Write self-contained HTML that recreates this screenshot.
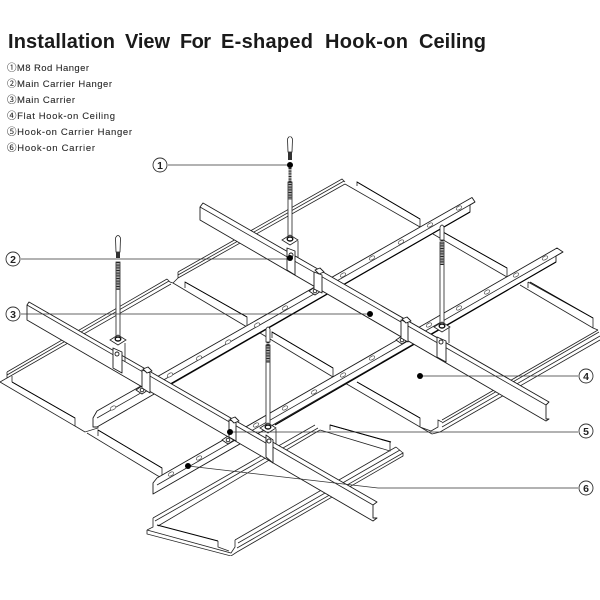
<!DOCTYPE html>
<html><head><meta charset="utf-8"><style>
html,body{margin:0;padding:0;background:#fff;width:600px;height:600px;overflow:hidden}
svg{display:block}
text{font-family:"Liberation Sans","Noto Sans CJK JP",sans-serif}
.l{fill:#fff;stroke:#1c1c1c;stroke-width:.9;stroke-linejoin:round}
.n{fill:none;stroke:#222;stroke-width:.8}
.d{fill:none;stroke:#000;stroke-width:1.1}
.c{fill:none;stroke:#333;stroke-width:.8}
.s{fill:#fff;stroke:#444;stroke-width:.7}
.r{fill:#fff;stroke:#222;stroke-width:.8}
.list{font-size:9.5px;fill:#222;stroke:#555;stroke-width:.12}
.num{font-size:10.5px;font-weight:bold;fill:#222;text-anchor:middle}
.title{font-size:20px;font-weight:bold;fill:#1a1a1a}
</style></head><body>
<svg width="600" height="600" viewBox="0 0 600 600" xmlns="http://www.w3.org/2000/svg">
<defs><filter id="b" x="0" y="0" width="100%" height="100%"><feGaussianBlur stdDeviation="0.3"/></filter></defs>
<g class="title">
<text x="8" y="48" textLength="107">Installation</text>
<text x="125" y="48" textLength="45">View</text>
<text x="180" y="48" textLength="31">For</text>
<text x="221" y="48" textLength="92">E-shaped</text>
<text x="325" y="48" textLength="83">Hook-on</text>
<text x="419" y="48" textLength="67">Ceiling</text>
</g>
<g class="list">
<text x="7" y="71" textLength="82">①M8 Rod Hanger</text>
<text x="7" y="87" textLength="105">②Main Carrier Hanger</text>
<text x="7" y="103" textLength="68">③Main Carrier</text>
<text x="7" y="119" textLength="108">④Flat Hook-on Ceiling</text>
<text x="7" y="135" textLength="125">⑤Hook-on Carrier Hanger</text>
<text x="7" y="151" textLength="88">⑥Hook-on Carrier</text>
</g>
<g filter="url(#b)">
<!-- panels -->
<g class="n">
<path d="M7 372L167 279M7 375L169 281M0 382L7 378V372M7 378L171 284M167 279L170 282L173 283"/>
<path d="M178 272L342 179L345 182M178 275L344 181M178 278L345 184M178 272V278L173 283"/>
<path d="M345 184L420 227V219L357 182V186"/>
<path d="M433 234L507 277V268L443 232"/>
<path d="M520 285L593 328L598 330M528 282L593 318V328M528 282V288"/>
<path d="M173 283L247 327V317L185 282V288"/>
<path d="M260 333L333 377V368L272 332V338"/>
<path d="M345 383L432 434M357 382L420 418V427L431 431L438 427V420L442 422"/>
<path d="M442 420L598 330M442 423L599 332M442 427L600 336M432 434L440 432L600 340"/>
<path d="M0 382L85 432L98 428V422M12 382V376M12 382L75 418V426L85 432"/>
<path d="M87 433L158 476L162 477V468L98 430V436"/>
</g>
<!-- bottom panel -->
<g class="n">
<path d="M153 518L315 425M155 521L318 428M158 526L320 430"/>
<path d="M147 530L153 527V518M147 530L147 534L231 556L237 552"/>
<path d="M147 530L231 553L235 547V540"/>
<path d="M235 540L396 447M238 543L400 450M237 548L403 453L403 456L237 552"/>
<path d="M320 430L390 451V442L330 425V430"/>
<path d="M218 541V547L229 551"/>
<path d="M396 447L403 453"/>
</g>
<path class="d" d="M157 525L218 541"/>
<path class="d" style="stroke-width:1" d="M330 425L391 442"/>
<path class="d" style="stroke-width:.9" d="M185 282L247 317M357 182L420 219M443 232L507 268M530 282L593 318M272 332L333 368M357 382L420 418M12 382L75 418M98 430L162 468"/>
<!-- carriers -->
<path class="l" d="M97 411L472 197.5L475 202L470 205V212L97 427L93 427V418Z"/>
<path class="n" d="M97 418L475 202"/>
<path class="d" d="M165 387L470 212"/>
<path class="l" d="M157 478L557 248L563 252L556 256V262L153 494V483Z"/>
<path class="n" d="M157 485L563 252"/>
<path class="d" d="M275 425L556 262"/>
<g class="s">
<ellipse cx="343" cy="275" rx="3" ry="1.7" transform="rotate(-30 343 275)"/><ellipse cx="372" cy="258" rx="3" ry="1.7" transform="rotate(-30 372 258)"/><ellipse cx="401" cy="242" rx="3" ry="1.7" transform="rotate(-30 401 242)"/><ellipse cx="430" cy="225" rx="3" ry="1.7" transform="rotate(-30 430 225)"/><ellipse cx="459" cy="208" rx="3" ry="1.7" transform="rotate(-30 459 208)"/>
<ellipse cx="285" cy="308" rx="3" ry="1.7" transform="rotate(-30 285 308)"/><ellipse cx="257" cy="325" rx="3" ry="1.7" transform="rotate(-30 257 325)"/><ellipse cx="228" cy="342" rx="3" ry="1.7" transform="rotate(-30 228 342)"/><ellipse cx="199" cy="358" rx="3" ry="1.7" transform="rotate(-30 199 358)"/><ellipse cx="170" cy="375" rx="3" ry="1.7" transform="rotate(-30 170 375)"/><ellipse cx="113" cy="408" rx="3" ry="1.7" transform="rotate(-30 113 408)"/>
<ellipse cx="545" cy="258" rx="3" ry="1.7" transform="rotate(-30 545 258)"/><ellipse cx="516" cy="275" rx="3" ry="1.7" transform="rotate(-30 516 275)"/><ellipse cx="487" cy="292" rx="3" ry="1.7" transform="rotate(-30 487 292)"/><ellipse cx="459" cy="308" rx="3" ry="1.7" transform="rotate(-30 459 308)"/><ellipse cx="429" cy="325" rx="3" ry="1.7" transform="rotate(-30 429 325)"/><ellipse cx="372" cy="358" rx="3" ry="1.7" transform="rotate(-30 372 358)"/><ellipse cx="343" cy="375" rx="3" ry="1.7" transform="rotate(-30 343 375)"/><ellipse cx="314" cy="392" rx="3" ry="1.7" transform="rotate(-30 314 392)"/><ellipse cx="285" cy="408" rx="3" ry="1.7" transform="rotate(-30 285 408)"/><ellipse cx="256" cy="425" rx="3" ry="1.7" transform="rotate(-30 256 425)"/><ellipse cx="199" cy="458" rx="3" ry="1.7" transform="rotate(-30 199 458)"/><ellipse cx="171" cy="474" rx="3" ry="1.7" transform="rotate(-30 171 474)"/>
</g>
<!-- washers on carriers, below the beams -->
<g class="l">
<path d="M309 291L315 287L321 291L315 295Z"/><path d="M396 340L402 336L408 340L402 344Z"/><path d="M136 390L142 386L148 390L142 394Z"/><path d="M222 440L228 436L234 440L228 444Z"/>
<circle cx="315" cy="291" r="1.8"/><circle cx="402" cy="340" r="1.8"/><circle cx="142" cy="390" r="1.8"/><circle cx="228" cy="440" r="1.8"/>
</g>
<!-- beams -->
<path class="l" d="M203 203L549 402L546 405V419L549 419L546 421L200 220V207Z"/>
<path class="n" d="M200 207L546 405"/>
<path class="l" d="M29 302L377 502L373 505V518L377 518L373 521L27 320V305Z"/>
<path class="n" d="M27 305L373 505"/>
<!-- carrier hanger brackets, in front of beam web -->
<g class="l">
<path d="M314 272L322 275V293L314 289Z"/><path d="M401 320L408 323V342L401 338Z"/><path d="M142 370L150 373V393L142 388Z"/><path d="M229 420L236 422V441L229 437Z"/>
<path d="M315 270L320 268L324 272L319 274Z"/><path d="M402 319L407 317L411 321L406 323Z"/><path d="M143 369L148 367L152 371L147 373Z"/><path d="M230 419L235 417L239 421L234 423Z"/>
</g>
<!-- hanger back plates -->
<path class="n" d="M298 241V258M125 343V362M449 327V343M276 429V444"/>
<!-- hanger front brackets -->
<g class="l">
<path d="M287 248L295 251V275L287 270Z"/><path d="M113 348L122 352V373L113 368Z"/><path d="M437 337L446 341V362L437 357Z"/><path d="M266 435L273 440V463L266 457Z"/>
<circle cx="291" cy="255" r="2"/><circle cx="117" cy="354" r="2"/><circle cx="441" cy="342" r="2"/><circle cx="269" cy="441" r="2"/>
</g>
<!-- rods -->
<g>
<path class="r" d="M288 182H292V236H288Z"/><path class="r" d="M116 262H120V336H116Z"/><path class="r" d="M440 242H444V323H440Z"/><path class="r" d="M266 345H270V425H266Z"/>
<path d="M290 168V200M118 262V290M442 240V265M268 342V363" stroke="#222" stroke-width="3" stroke-dasharray="1 .6" fill="none"/>
<path class="r" d="M287.5 139Q290 134 292.500 139L292 152L288 152Z"/><path class="r" d="M115.500 238Q118 233 120.500 238L120 252L116 252Z"/><path class="r" d="M440 227Q442 223 444 227V240H440Z"/><path class="r" d="M266 329Q268 325 270 329V342H266Z"/>
<path d="M288 152H292V160H288ZM116 252H120V258H116Z" fill="#333"/>
<g class="r">
<path d="M282 240L290 235L298 240L290 245Z"/><path d="M110 340L118 335L126 340L118 345Z"/><path d="M434 327L442 322L450 327L442 332Z"/><path d="M260 428L268 423L276 428L268 433Z"/>
</g>
<g fill="#fff" stroke="#111" stroke-width="1.4"><ellipse cx="290" cy="239" rx="2.800" ry="2"/><ellipse cx="118" cy="339" rx="2.800" ry="2"/><ellipse cx="442" cy="326" rx="2.800" ry="2"/><ellipse cx="268" cy="427" rx="2.800" ry="2"/></g>
</g>
<!-- callouts -->
<g class="c">
<path d="M168 165H290"/><path d="M21 259H290"/><path d="M21 314H370"/><path d="M420 376H578"/><path d="M230 432H578"/><path d="M188 466L378 488H578"/>
</g>
<g fill="#000"><circle cx="290" cy="165" r="3"/><circle cx="290" cy="258" r="3"/><circle cx="370" cy="314" r="3"/><circle cx="420" cy="376" r="3"/><circle cx="230" cy="432" r="3"/><circle cx="188" cy="466" r="3"/></g>
<g fill="#fff" stroke="#333" stroke-width=".9"><circle cx="160" cy="165" r="7"/><circle cx="13" cy="259" r="7"/><circle cx="13" cy="314" r="7"/><circle cx="586" cy="376" r="7"/><circle cx="586" cy="431" r="7"/><circle cx="586" cy="488" r="7"/></g>
</g>
<text class="num" x="160" y="169">1</text>
<text class="num" x="13" y="263">2</text>
<text class="num" x="13" y="318">3</text>
<text class="num" x="586" y="380">4</text>
<text class="num" x="586" y="435">5</text>
<text class="num" x="586" y="492">6</text>
</svg>
</body></html>
